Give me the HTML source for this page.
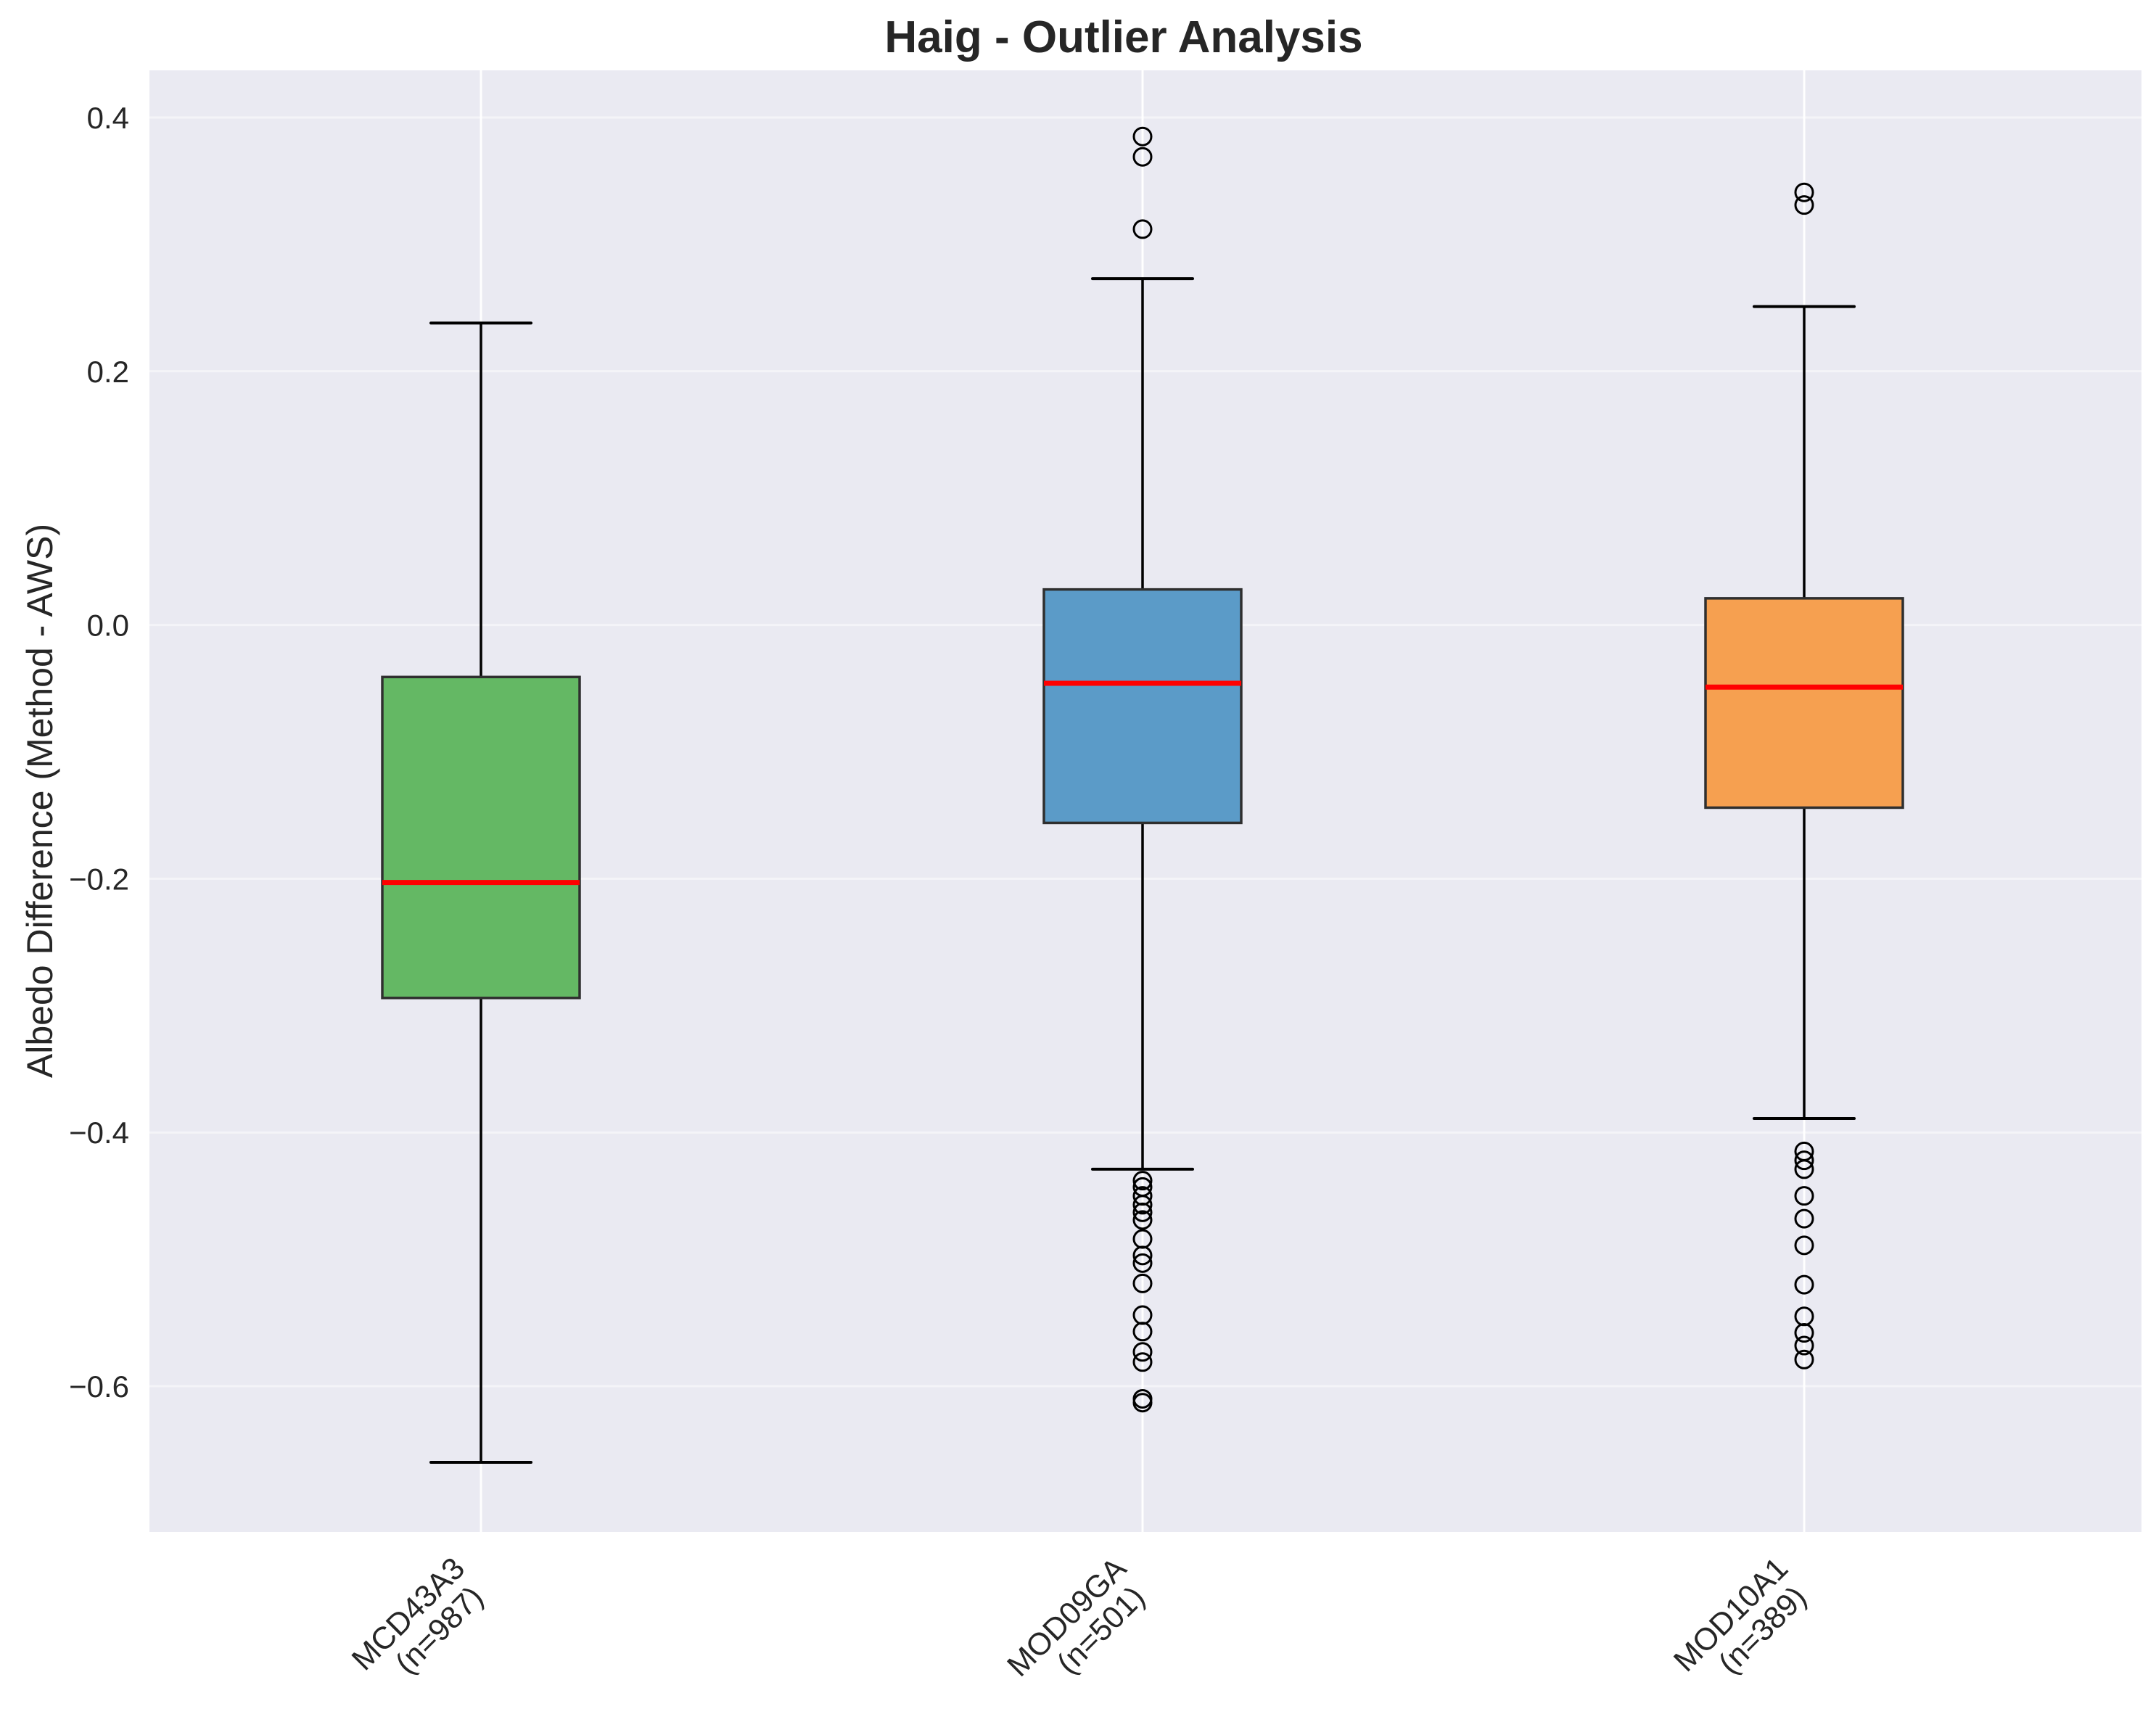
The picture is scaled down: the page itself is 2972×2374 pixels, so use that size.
<!DOCTYPE html>
<html><head><meta charset="utf-8"><style>
html,body{margin:0;padding:0;background:#fff;}
svg{display:block;font-family:"Liberation Sans",Arial,sans-serif;}
</style></head><body>
<svg id="chart" width="2972" height="2374" viewBox="0 0 2972 2374" xmlns="http://www.w3.org/2000/svg">
<rect x="0" y="0" width="2972" height="2374" fill="#ffffff"/>
<rect x="206" y="97" width="2746" height="2015" fill="#eaeaf2"/>
<g id="grid"></g>
<g id="boxes"></g>
<g id="yticks"></g>
<g id="xticks"></g>
<text x="1549" y="72" text-anchor="middle" font-size="62" font-weight="bold" fill="#262626">Haig - Outlier Analysis</text>
<text transform="translate(72,1104) rotate(-90)" text-anchor="middle" font-size="50" fill="#262626">Albedo Difference (Method - AWS)</text>
</svg>
<script>
const categories = ["MCD43A3","MOD09GA","MOD10A1"];
const counts = [987, 501, 389];
const q1 = [-0.294, -0.156, -0.144];
const medians = [-0.203, -0.046, -0.049];
const q3 = [-0.041, 0.028, 0.021];
const whiskerLow = [-0.660, -0.429, -0.389];
const whiskerHigh = [0.238, 0.273, 0.251];
const outliers0 = [];
const outliers1 = [0.385, 0.369, 0.312, -0.438, -0.443, -0.450, -0.457, -0.463, -0.469, -0.484, -0.497, -0.503, -0.519, -0.544, -0.557, -0.573, -0.581, -0.610, -0.613];
const outliers2 = [0.341, 0.331, -0.415, -0.422, -0.429, -0.450, -0.468, -0.489, -0.520, -0.545, -0.558, -0.568, -0.579];
const outliers = [outliers0, outliers1, outliers2];
const yTicks = [0.4, 0.2, 0.0, -0.2, -0.4, -0.6];
const yTickLabels = ["0.4","0.2","0.0","\u22120.2","\u22120.4","\u22120.6"];
const colors = ["#64b864","#5b9bc8","#f6a050"];

const NS = "http://www.w3.org/2000/svg";
const axL = 206, axR = 2952, axT = 97, axB = 2112;
function y(v){ return 162 + (0.4 - v) * 1749; }
function x(i){ return 663 + i * 912; }
function mk(tag, attrs, parent){
  const e = document.createElementNS(NS, tag);
  for (const k in attrs) e.setAttribute(k, attrs[k]);
  parent.appendChild(e); return e;
}
const grid = document.getElementById('grid');
const boxes = document.getElementById('boxes');
const yt = document.getElementById('yticks');
const xt = document.getElementById('xticks');

yTicks.forEach((v, i) => {
  const l = mk('line', {x1: axL, x2: axR, y1: y(v), y2: y(v), stroke: '#f4f4f8', 'stroke-width': 3}, grid);
  
  
  const t = mk('text', {x: 178, y: y(v) + 15, 'text-anchor': 'end', 'font-size': 42, fill: '#262626'}, yt);
  
  
  t.textContent = yTickLabels[i];
});
categories.forEach((c, i) => {
  const l = mk('line', {x1: x(i), x2: x(i), y1: axT, y2: axB, stroke: '#ffffff', 'stroke-width': 3}, grid);
  
  
});
categories.forEach((c, i) => {
  const cx = x(i), hw = 136, cw = 69;
  const g = mk('g', {}, boxes);
  
  
  const w1 = mk('line', {x1: cx, x2: cx, y1: y(q3[i]), y2: y(whiskerHigh[i]), stroke: '#000', 'stroke-width': 3.5}, g);
  
  
  const w2 = mk('line', {x1: cx, x2: cx, y1: y(q1[i]), y2: y(whiskerLow[i]), stroke: '#000', 'stroke-width': 3.5}, g);
  
  
  const c1 = mk('line', {x1: cx - cw, x2: cx + cw, y1: y(whiskerHigh[i]), y2: y(whiskerHigh[i]), stroke: '#000', 'stroke-width': 4, 'stroke-linecap': 'round'}, g);
  
  
  const c2 = mk('line', {x1: cx - cw, x2: cx + cw, y1: y(whiskerLow[i]), y2: y(whiskerLow[i]), stroke: '#000', 'stroke-width': 4, 'stroke-linecap': 'round'}, g);
  
  
  const r = mk('rect', {x: cx - hw, y: y(q3[i]), width: 2 * hw, height: y(q1[i]) - y(q3[i]), fill: colors[i], stroke: '#2f2f2f', 'stroke-width': 3.5}, g);
  
  
  const m = mk('line', {x1: cx - hw, x2: cx + hw, y1: y(medians[i]), y2: y(medians[i]), stroke: '#ff0000', 'stroke-width': 7}, g);
  
  
  outliers[i].forEach(v => {
    const o = mk('circle', {cx: cx, cy: y(v), r: 12, fill: 'none', stroke: '#000', 'stroke-width': 3}, g);
    
    
  });
  const tg = mk('g', {transform: 'translate(' + (cx - 20) + ',2165) rotate(-45)'}, xt);
  
  
  const t1 = mk('text', {x: 0, y: 0, 'text-anchor': 'end', 'font-size': 43, fill: '#262626'}, tg);
  t1.textContent = c;
  const t2 = mk('text', {x: -10, y: 46, 'text-anchor': 'end', 'font-size': 43, fill: '#262626'}, tg);
  t2.textContent = '(n=' + counts[i] + ')';
});
</script>
</body></html>
